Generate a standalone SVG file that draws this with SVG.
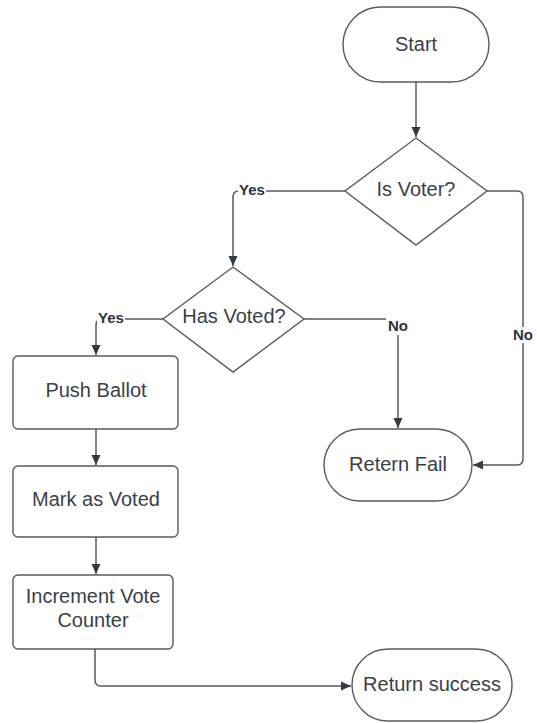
<svg xmlns="http://www.w3.org/2000/svg" width="537" height="723" viewBox="0 0 537 723">
  <style>
    .shape { fill: #ffffff; stroke: #5a5a5a; stroke-width: 1.4; }
    .txt { font-family: "Liberation Sans", Arial, sans-serif; font-size: 20px; fill: #3a3f47; text-anchor: middle; }
    .lbl { font-family: "Liberation Sans", Arial, sans-serif; font-size: 15px; font-weight: bold; fill: #2f343b; text-anchor: middle; }
    .edge { fill: none; stroke: #5a5a5a; stroke-width: 1.5; }
    .lblbg { fill: #ffffff; }
  </style>
  <defs>
    <marker id="arrow" viewBox="0 0 10 10" refX="10" refY="5" markerWidth="10" markerHeight="10" markerUnits="userSpaceOnUse" orient="auto">
      <path d="M0,0.5 L10,5 L0,9.5 Z" fill="#333a44"/>
    </marker>
  </defs>
  <rect width="537" height="723" fill="#ffffff"/>

  <!-- connectors -->
  <g id="connectors">
    <path class="edge" d="M416,82 V137" marker-end="url(#arrow)"/>
    <path class="edge" d="M345,191 H239 Q233,191 233,197 V266" marker-end="url(#arrow)"/>
    <path class="edge" d="M487,191 H517 Q523,191 523,197 V459 Q523,465 517,465 H473" marker-end="url(#arrow)"/>
    <path class="edge" d="M163,319 H102 Q96,319 96,325 V355" marker-end="url(#arrow)"/>
    <path class="edge" d="M304,319 H398 V428" marker-end="url(#arrow)"/>
    <path class="edge" d="M96,429 V465" marker-end="url(#arrow)"/>
    <path class="edge" d="M96,537 V574" marker-end="url(#arrow)"/>
    <path class="edge" d="M95,649 V680 Q95,686 101,686 H351" marker-end="url(#arrow)"/>

    <!-- branch labels -->
    <rect class="lblbg" x="238" y="182" width="28" height="16"/>
    <text class="lbl" x="252" y="195">Yes</text>
    <rect class="lblbg" x="97" y="310" width="28" height="16"/>
    <text class="lbl" x="111" y="323">Yes</text>
    <rect class="lblbg" x="386" y="318" width="24" height="17"/>
    <text class="lbl" x="398" y="331">No</text>
    <rect class="lblbg" x="511" y="327" width="24" height="16"/>
    <text class="lbl" x="523" y="340">No</text>
  </g>

  <g id="start">
    <rect class="shape" x="343" y="7" width="146" height="75" rx="37.5"/>
    <text class="txt" x="416" y="51">Start</text>
  </g>

  <g id="is-voter">
    <polygon class="shape" points="416,138 487,191 416,245 345,191"/>
    <text class="txt" x="416" y="196">Is Voter?</text>
  </g>

  <g id="has-voted">
    <polygon class="shape" points="233,267 304,319 233,372 163,319"/>
    <text class="txt" x="234" y="323">Has Voted?</text>
  </g>

  <g id="push-ballot">
    <rect class="shape" x="13" y="356" width="165" height="73" rx="5"/>
    <text class="txt" x="96" y="397">Push Ballot</text>
  </g>

  <g id="mark-voted">
    <rect class="shape" x="13" y="466" width="165" height="71" rx="5"/>
    <text class="txt" x="96" y="506">Mark as Voted</text>
  </g>

  <g id="increment-counter">
    <rect class="shape" x="13" y="575" width="160" height="74" rx="5"/>
    <text class="txt" x="93" y="603">Increment Vote</text>
    <text class="txt" x="93" y="627">Counter</text>
  </g>

  <g id="retern-fail">
    <rect class="shape" x="324" y="429" width="148" height="72" rx="36"/>
    <text class="txt" x="398" y="471">Retern Fail</text>
  </g>

  <g id="return-success">
    <rect class="shape" x="352" y="649" width="160" height="72" rx="36"/>
    <text class="txt" x="432" y="691">Return success</text>
  </g>
</svg>
